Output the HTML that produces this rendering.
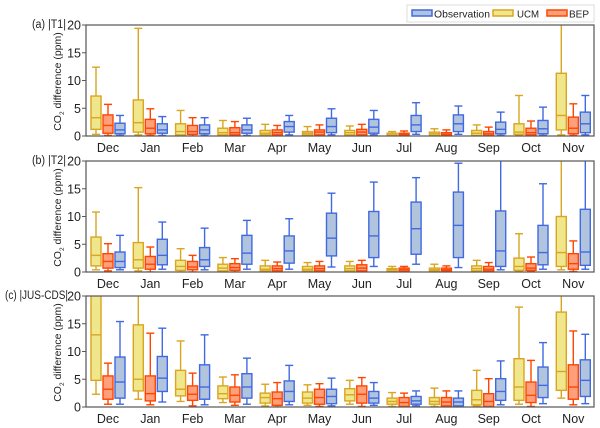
<!DOCTYPE html>
<html><head><meta charset="utf-8">
<style>
html,body{margin:0;padding:0;background:#fff;}
svg{display:block;font-family:"Liberation Sans",Arial,sans-serif;}
</style></head>
<body>
<svg id="chart" width="600" height="428" viewBox="0 0 600 428" xmlns="http://www.w3.org/2000/svg">
<defs>
<clipPath id="clipA"><rect x="86" y="25" width="508" height="111"/></clipPath>
<clipPath id="clipB"><rect x="86" y="161" width="508" height="111"/></clipPath>
<clipPath id="clipC"><rect x="86" y="296" width="508" height="111"/></clipPath>
</defs>
<g id="legend">
<rect x="407" y="5" width="187" height="17" fill="#fff" stroke="#ddd"/>
<g><rect x="412" y="10" width="20" height="6" fill="#b0c4de" stroke="#4169e1" stroke-width="1.5"/><text x="434" y="17.5" font-size="10.5" fill="#222" textLength="56" lengthAdjust="spacingAndGlyphs">Observation</text></g>
<g><rect x="493" y="10" width="20" height="6" fill="#f0e68c" stroke="#daa520" stroke-width="1.5"/><text x="517" y="17.5" font-size="10.5" fill="#222" textLength="22" lengthAdjust="spacingAndGlyphs">UCM</text></g>
<g><rect x="547" y="10" width="20" height="6" fill="#ffa07a" stroke="#ff4500" stroke-width="1.5"/><text x="569" y="17.5" font-size="10.5" fill="#222" textLength="20" lengthAdjust="spacingAndGlyphs">BEP</text></g>
</g>
</svg>
<script>
const months = ["Dec","Jan","Feb","Mar","Apr","May","Jun","Jul","Aug","Sep","Oct","Nov"];
const yTicks = [0,5,10,15,20];
const seriesNames = ["UCM","BEP","Observation"];
// each entry: [low, q1, median, q3, high]
const t1UCM = [[0.3,1.2,3.3,7.2,12.4],[0.2,0.7,2.4,6.5,19.4],[0,0.2,0.8,2.2,4.6],[0,0.2,0.6,1.4,2.8],[0,0.2,0.5,1.0,2.1],[0,0.2,0.5,0.8,1.7],[0,0.2,0.6,1.0,1.8],[0,0.1,0.2,0.5,0.8],[0,0.1,0.4,0.7,1.3],[0,0.1,0.5,1.0,2.0],[0.1,0.3,0.7,2.2,7.3],[0.2,1.1,3.7,11.3,25]];
const t1BEP = [[0.1,0.5,1.9,3.8,5.7],[0.1,0.4,1.4,3.0,4.9],[0,0.3,0.8,1.9,3.3],[0,0.2,0.6,1.5,2.6],[0,0.2,0.6,1.1,1.9],[0,0.2,0.7,1.1,2.0],[0,0.2,0.7,1.2,2.1],[0,0.1,0.3,0.5,0.9],[0,0.1,0.3,0.6,1.1],[0,0.1,0.4,0.8,1.6],[0,0.2,0.6,1.4,2.7],[0.1,0.4,1.4,3.4,5.8]];
const t1Obs = [[0.1,0.4,1.1,2.3,3.7],[0.1,0.5,1.1,2.2,3.5],[0.1,0.4,1.1,2.0,3.3],[0.1,0.5,1.1,2.0,3.2],[0.2,0.7,1.7,2.6,3.7],[0.2,0.6,1.7,3.2,4.9],[0.2,0.5,1.6,3.0,4.6],[0.3,0.8,2.0,3.7,6.0],[0.3,0.8,2.2,3.8,5.4],[0.1,0.4,1.2,2.5,4.3],[0.1,0.4,1.3,2.8,5.2],[0.2,0.6,2.2,4.3,7.3]];
const t2UCM = [[0.4,1.1,3.0,6.3,10.8],[0.2,0.7,2.2,5.3,15.2],[0,0.3,1.0,2.1,4.2],[0,0.2,0.7,1.4,2.6],[0,0.2,0.5,1.1,2.1],[0,0.2,0.5,1.0,1.7],[0,0.2,0.6,1.1,1.9],[0,0.1,0.4,0.6,1.0],[0,0.2,0.4,0.7,1.4],[0,0.2,0.6,1.1,2.1],[0.1,0.3,1.0,2.5,6.9],[0.4,1.0,3.5,10.0,25]];
const t2BEP = [[0.2,0.7,1.9,3.3,5.1],[0,0.5,1.4,2.8,4.5],[0,0.4,0.9,1.9,3.0],[0,0.3,0.8,1.5,2.4],[0,0.2,0.6,1.1,1.8],[0,0.2,0.6,1.1,1.9],[0,0.2,0.7,1.3,2.1],[0,0.1,0.4,0.7,1.0],[0,0.2,0.4,0.7,1.1],[0,0.2,0.5,1.0,1.7],[0.1,0.3,0.7,1.5,2.7],[0.1,0.5,1.5,3.3,5.6]];
const t2Obs = [[0.4,0.8,1.9,3.6,6.6],[0.5,1.3,3.0,5.9,9.0],[0.4,1.0,2.2,4.4,7.9],[0.5,1.4,3.4,6.6,9.3],[0.5,1.6,3.8,6.5,9.6],[0.9,2.9,6.1,10.6,14.2],[1.0,2.6,6.5,10.9,16.2],[1.4,3.2,7.8,12.6,17.0],[0.8,2.6,8.4,14.4,19.6],[0.4,1.0,3.8,11.0,22],[0.5,1.3,3.5,8.4,15.9],[0.5,1.2,3.6,11.3,22]];
const cUCM = [[2.3,4.8,13.0,21,28],[1.4,2.9,5.0,14.8,24],[1.0,2.0,3.2,6.6,11.9],[0.8,1.5,2.4,3.8,5.4],[0.2,0.7,1.7,2.5,4.1],[0.3,0.7,1.6,2.7,4.0],[0.5,1.1,2.2,3.3,4.8],[0.1,0.5,1.0,1.6,2.6],[0.1,0.5,1.0,1.7,3.4],[0.2,0.4,1.3,3.0,6.6],[0.5,1.2,3.6,8.7,18.0],[1.6,3.0,6.4,17.1,24]];
const cBEP = [[0.5,1.4,3.2,5.6,7.9],[0.4,1.1,2.4,5.6,13.3],[0.2,1.2,2.3,3.8,6.1],[0.3,0.9,2.1,3.6,5.8],[0,0.3,1.5,2.7,4.4],[0.1,0.5,1.7,3.2,4.2],[0.1,0.7,2.3,3.8,5.3],[0,0.1,0.8,1.7,2.5],[0,0.2,0.9,1.7,2.9],[0,0.1,1.0,2.4,5.1],[0.1,0.8,2.1,4.5,8.4],[0.4,1.4,3.6,7.6,13.7]];
const cObs = [[0.5,1.6,4.5,9.0,15.4],[0.9,2.8,5.2,9.1,14.2],[0.4,1.4,3.6,7.6,13.0],[0.5,1.6,3.6,6.0,8.8],[0.4,1.0,2.8,4.7,7.5],[0.2,0.6,1.9,3.2,5.2],[0.3,0.7,1.6,2.8,4.4],[0.2,0.5,1.1,1.9,2.9],[0,0.2,0.9,1.6,2.9],[0.4,1.2,2.8,5.1,8.3],[0.6,1.7,3.9,7.2,11.6],[0.6,1.9,4.8,8.5,13.1]];

const NS = "http://www.w3.org/2000/svg";
const svg = document.getElementById("chart");
const panels = [
 {key:"a", title:"(a) |T1|", tx:32, tw:34, top:25, clip:"clipA", data:[t1UCM,t1BEP,t1Obs]},
 {key:"b", title:"(b) |T2|", tx:32, tw:34, top:161, clip:"clipB", data:[t2UCM,t2BEP,t2Obs]},
 {key:"c", title:"(c) |JUS-CDS|", tx:5, tw:63, top:296, clip:"clipC", data:[cUCM,cBEP,cObs]}
];
const styles = [
 {fill:"#f0e68c", stroke:"#daa520", name:"ucm"},
 {fill:"#ffa07a", stroke:"#ff4500", name:"bep"},
 {fill:"#b0c4de", stroke:"#4169e1", name:"obs"}
];
const left = 86, width = 508, ph = 111, yMax = 20;
const step = 42.3, firstCenter = 108, offset = 12, bw = 10, cap = 8;
function xPos(m, s){ return firstCenter + step*m + (s-1)*offset; }
function mk(tag, attrs, parent){ const e=document.createElementNS(NS,tag); for(const k in attrs) e.setAttribute(k,attrs[k]); (parent||svg).appendChild(e); return e; }

panels.forEach(p=>{
  const bottom = p.top + ph;
  const yPos = v => bottom - v/yMax*ph;
  const g = mk("g",{});
  
  
  const t = mk("text",{x:p.tx, y:p.top+3, "font-size":11.5, fill:"#222", textLength:p.tw, lengthAdjust:"spacingAndGlyphs"}, g);
  t.textContent = p.title;
  
  
  const yt = mk("text",{x:0,y:0,"font-size":10.5,fill:"#222","text-anchor":"middle",transform:`translate(61,${p.top+ph/2+1}) rotate(-90)`}, g);
  yt.innerHTML = 'CO<tspan font-size="6.5" dy="3">2</tspan><tspan dy="-3"> difference (ppm)</tspan>';
  
  
  yTicks.forEach(v=>{
    const y = yPos(v);
    mk("line",{x1:left-4,x2:left,y1:y,y2:y,stroke:"#555","stroke-width":1}, g);
    const lbl = mk("text",{x:left-5,y:y+4.5,"font-size":12.5,fill:"#222","text-anchor":"end"}, g);
    lbl.textContent = v;
    
    
  });
  months.forEach((m,i)=>{
    const lbl = mk("text",{x:xPos(i,1),y:bottom+16,"font-size":12.5,fill:"#222","text-anchor":"middle"}, g);
    lbl.textContent = m;
    
    
  });
  const bg = mk("g",{"clip-path":`url(#${p.clip})`}, g);
  p.data.forEach((series,s)=>{
    const st = styles[s];
    series.forEach((d,i)=>{
      const x = xPos(i,s);
      const bx = mk("g",{}, bg);
      
      
      const sw = 1.4;
      mk("line",{x1:x,x2:x,y1:yPos(d[4]),y2:yPos(d[3]),stroke:st.stroke,"stroke-width":sw}, bx);
      mk("line",{x1:x,x2:x,y1:yPos(d[1]),y2:yPos(d[0]),stroke:st.stroke,"stroke-width":sw}, bx);
      mk("line",{x1:x-cap/2,x2:x+cap/2,y1:yPos(d[4]),y2:yPos(d[4]),stroke:st.stroke,"stroke-width":sw}, bx);
      mk("line",{x1:x-cap/2,x2:x+cap/2,y1:yPos(d[0]),y2:yPos(d[0]),stroke:st.stroke,"stroke-width":sw}, bx);
      mk("rect",{x:x-bw/2,y:yPos(d[3]),width:bw,height:Math.max(0.5,yPos(d[1])-yPos(d[3])),fill:st.fill,stroke:st.stroke,"stroke-width":sw}, bx);
      mk("line",{x1:x-bw/2,x2:x+bw/2,y1:yPos(d[2]),y2:yPos(d[2]),stroke:st.stroke,"stroke-width":sw}, bx);
    });
  });
  const fr = mk("rect",{x:left,y:p.top,width:width,height:ph,fill:"none",stroke:"#555","stroke-width":1.2}, g);
  
  
});
svg.appendChild(document.getElementById("legend"));
</script>
</body></html>
